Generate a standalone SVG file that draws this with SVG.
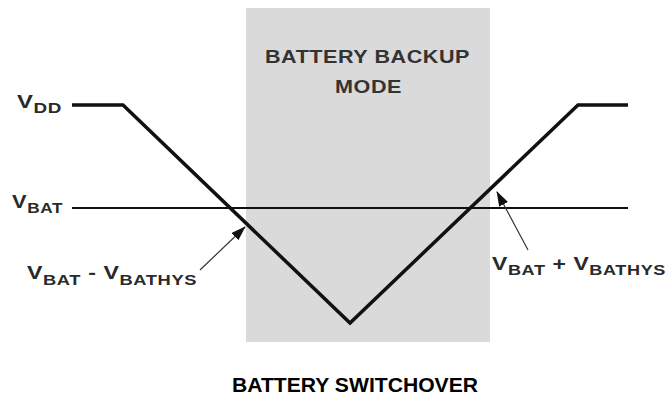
<svg xmlns="http://www.w3.org/2000/svg" width="667" height="396" viewBox="0 0 667 396">
<defs>
<style>
.lbl{font-family:"Liberation Sans",Arial,sans-serif;font-size:19px;font-weight:bold;fill:#2a2a2a;letter-spacing:0.5px}
.sub{font-size:15px}
.mode{font-family:"Liberation Sans",Arial,sans-serif;font-size:19px;font-weight:bold;fill:#333;letter-spacing:0.5px}
.title{font-family:"Liberation Sans",Arial,sans-serif;font-size:20px;font-weight:bold;fill:#000}
.wave{fill:none;stroke:#111;stroke-width:3.5;stroke-linejoin:miter}
.ref{stroke:#111;stroke-width:2}
.arr{stroke:#333;stroke-width:1.2}
</style>
<marker id="ah" markerWidth="15" markerHeight="10" refX="14" refY="5" orient="auto" markerUnits="userSpaceOnUse">
<path d="M0,0 L15,5 L0,10 Z" fill="#111"/>
</marker>
</defs>
<rect width="667" height="396" fill="#fff"/>
<g id="backup-region">
<rect x="246" y="8" width="244" height="334" fill="#dadada"/>
<text class="mode" x="265" y="63" textLength="205" lengthAdjust="spacingAndGlyphs">BATTERY BACKUP</text>
<text class="mode" x="335" y="93" textLength="67" lengthAdjust="spacingAndGlyphs">MODE</text>
</g>
<g id="vbat-line"><line class="ref" x1="72" y1="208" x2="628" y2="208"/></g>
<g id="waveform"><polyline class="wave" points="72,105 123,105 350,323 578,105 628,105"/></g>
<g id="connectors">
<line class="arr" x1="200" y1="270" x2="245" y2="227" marker-end="url(#ah)"/>
<line class="arr" x1="528" y1="250" x2="497" y2="192" marker-end="url(#ah)"/>
</g>
<g id="label-vdd"><text class="lbl" x="17" y="108" textLength="45" lengthAdjust="spacingAndGlyphs">V<tspan class="sub" dy="5">DD</tspan></text></g>
<g id="label-vbat"><text class="lbl" x="12" y="208" textLength="51" lengthAdjust="spacingAndGlyphs">V<tspan class="sub" dy="5">BAT</tspan></text></g>
<g id="label-minus"><text class="lbl" x="27" y="279" textLength="170" lengthAdjust="spacingAndGlyphs">V<tspan class="sub" dy="6">BAT</tspan><tspan dy="-6"> - V</tspan><tspan class="sub" dy="6">BATHYS</tspan></text></g>
<g id="label-plus"><text class="lbl" x="492" y="270" textLength="174" lengthAdjust="spacingAndGlyphs">V<tspan class="sub" dy="5">BAT</tspan><tspan dy="-5"> + V</tspan><tspan class="sub" dy="5">BATHYS</tspan></text></g>
<g id="caption"><text class="title" x="232" y="392" textLength="246" lengthAdjust="spacingAndGlyphs">BATTERY SWITCHOVER</text></g>
</svg>
